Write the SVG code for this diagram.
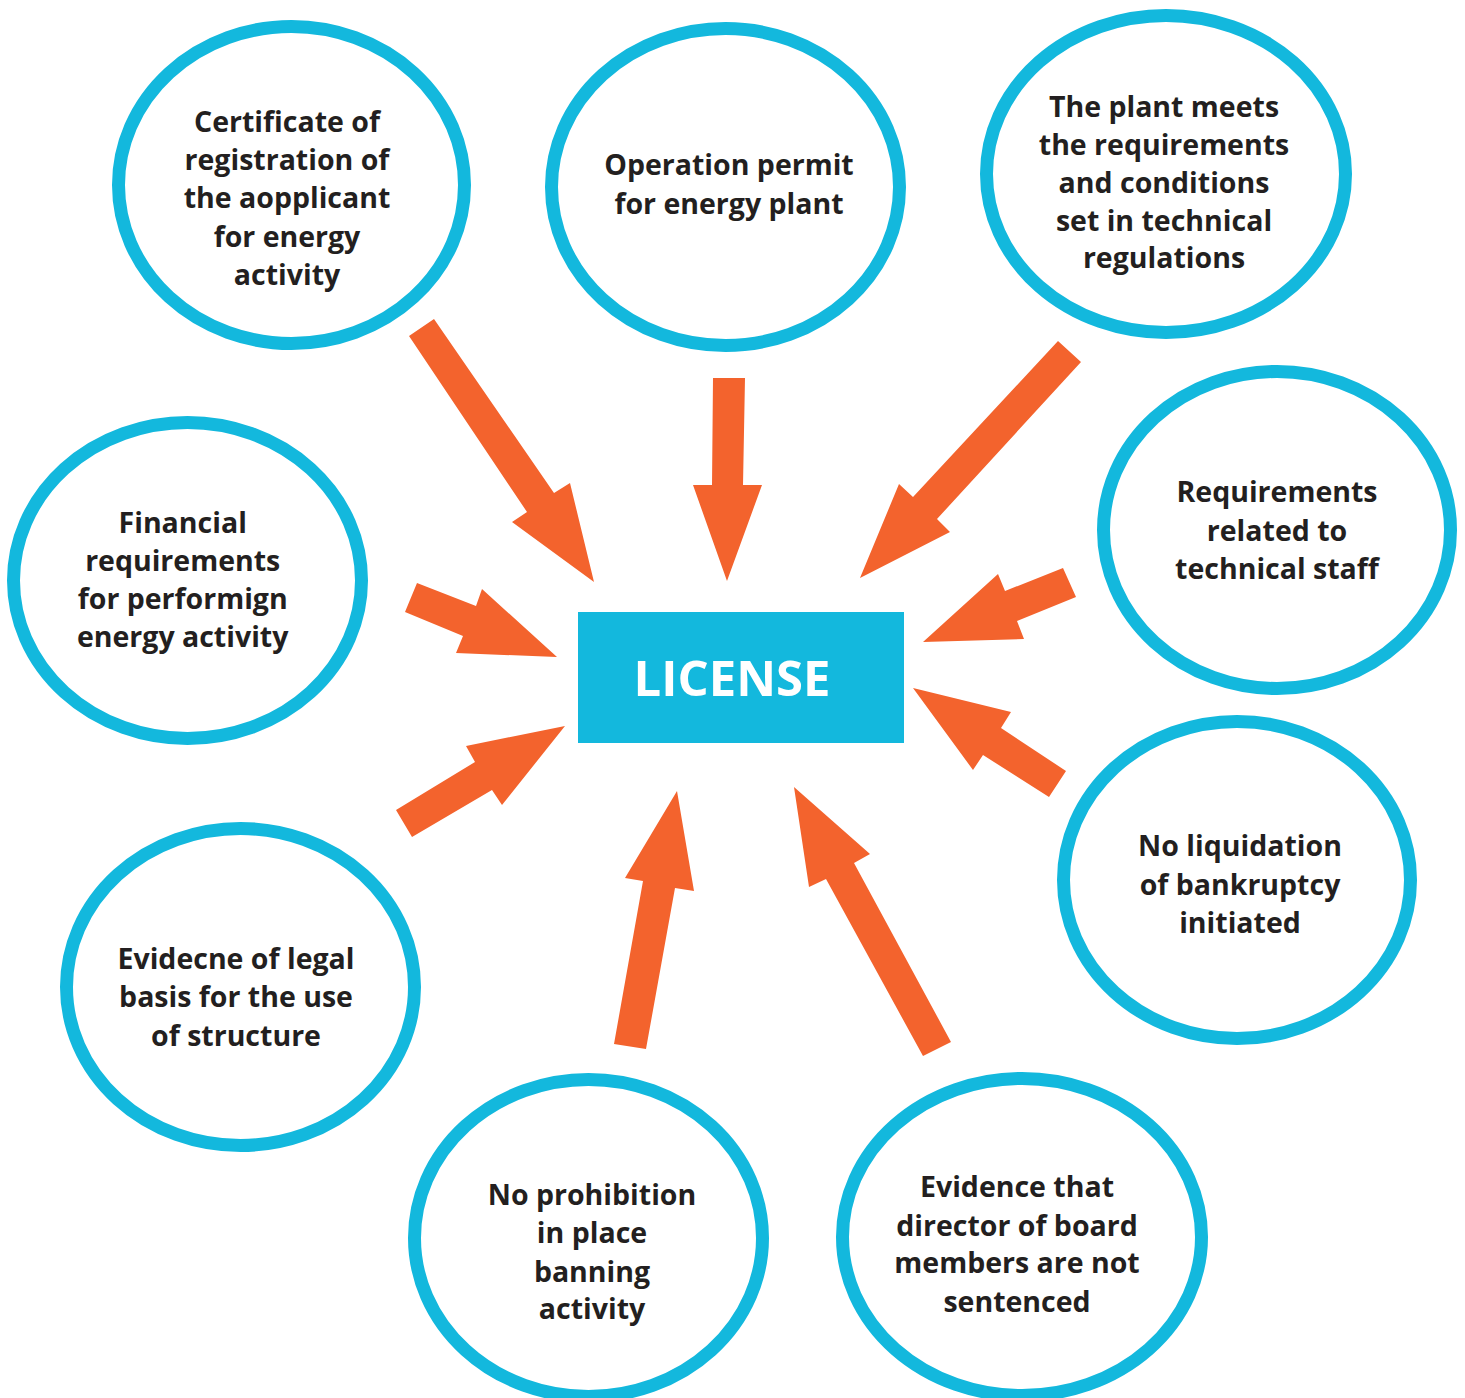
<svg xmlns="http://www.w3.org/2000/svg" width="1465" height="1398" viewBox="0 0 1465 1398">
<style>
.node ellipse{fill:#ffffff;stroke:#13b8dd;stroke-width:13}
.node text{font-family:"Open Sans","Noto Sans","Liberation Sans",sans-serif;font-weight:700;font-size:28.5px;fill:#231f20;text-anchor:middle}
.arrows polygon{fill:#f3632d}
.lic text{font-family:"Open Sans","Noto Sans","Liberation Sans",sans-serif;font-weight:700;font-size:49px;fill:#ffffff;text-anchor:middle}
</style>
<rect width="1465" height="1398" fill="#ffffff"/>
<g id="n1" class="node">
<ellipse cx="291.5" cy="185" rx="173" ry="158.5"/>
<text x="287" y="131.7">Certificate of</text>
<text x="287" y="170">registration of</text>
<text x="287" y="208.3">the aopplicant</text>
<text x="287" y="246.7">for energy</text>
<text x="287" y="285">activity</text>
</g>
<g id="n2" class="node">
<ellipse cx="725.5" cy="187" rx="174" ry="158.5"/>
<text x="729" y="174.5">Operation permit</text>
<text x="729" y="213.5">for energy plant</text>
</g>
<g id="n3" class="node">
<ellipse cx="1166" cy="174" rx="179.5" ry="158.5"/>
<text x="1164" y="116.7">The plant meets</text>
<text x="1164" y="155">the requirements</text>
<text x="1164" y="192.7">and conditions</text>
<text x="1164" y="231">set in technical</text>
<text x="1164" y="268.3">regulations</text>
</g>
<g id="n4" class="node">
<ellipse cx="1277" cy="530" rx="173.5" ry="158.5"/>
<text x="1277" y="502">Requirements</text>
<text x="1277" y="541">related to</text>
<text x="1277" y="579">technical staff</text>
</g>
<g id="n5" class="node">
<ellipse cx="187.5" cy="580.5" rx="174" ry="158"/>
<text x="182.7" y="533.3">Financial</text>
<text x="182.7" y="570.7">requirements</text>
<text x="182.7" y="609">for performign</text>
<text x="182.7" y="647.3">energy activity</text>
</g>
<g id="n6" class="node">
<ellipse cx="1237" cy="880" rx="173.5" ry="158.5"/>
<text x="1240" y="856">No liquidation</text>
<text x="1240" y="895">of bankruptcy</text>
<text x="1240" y="933">initiated</text>
</g>
<g id="n7" class="node">
<ellipse cx="240.5" cy="987" rx="174" ry="158.5"/>
<text x="236" y="969">Evidecne of legal</text>
<text x="236" y="1007">basis for the use</text>
<text x="236" y="1046">of structure</text>
</g>
<g id="n8" class="node">
<ellipse cx="588.5" cy="1238" rx="174" ry="158.5"/>
<text x="592" y="1205">No prohibition</text>
<text x="592" y="1242.7">in place</text>
<text x="592" y="1281.7">banning</text>
<text x="592" y="1319.3">activity</text>
</g>
<g id="n9" class="node">
<ellipse cx="1022" cy="1237" rx="179.5" ry="158.5"/>
<text x="1017" y="1197.3">Evidence that</text>
<text x="1017" y="1235.7">director of board</text>
<text x="1017" y="1273.3">members are not</text>
<text x="1017" y="1311.7">sentenced</text>
</g>
<g id="license" class="lic">
<rect x="578" y="612" width="326" height="131" fill="#13b8dd"/>
<text x="732" y="696">LICENSE</text>
</g>
<g id="connectors" class="arrows">
<polygon points="409,336 434,319 554,493 570,483 594,582 512,522 527,512"/>
<polygon points="713,378 745,378 743,485 762,485 727,581 693,485 712,485"/>
<polygon points="1058,341 1081,362 937,519 950,532 860,578 899,484 913,497"/>
<polygon points="417,583 476,606 482,589 557,657 456,653 463,636 405,612"/>
<polygon points="396,810 475,762 466,746 565,726 502,805 492,790 412,837"/>
<polygon points="1063,568 1076,597 1017,621 1024,639 923,642 998,574 1005,591"/>
<polygon points="1066,771 1001,728 1011,712 913,688 973,770 983,755 1049,797"/>
<polygon points="614,1044 643,881 625,878 677,791 694,891 675,888 646,1049"/>
<polygon points="923,1056 826,879 809,887 794,787 870,854 854,863 951,1042"/>
</g>
</svg>
